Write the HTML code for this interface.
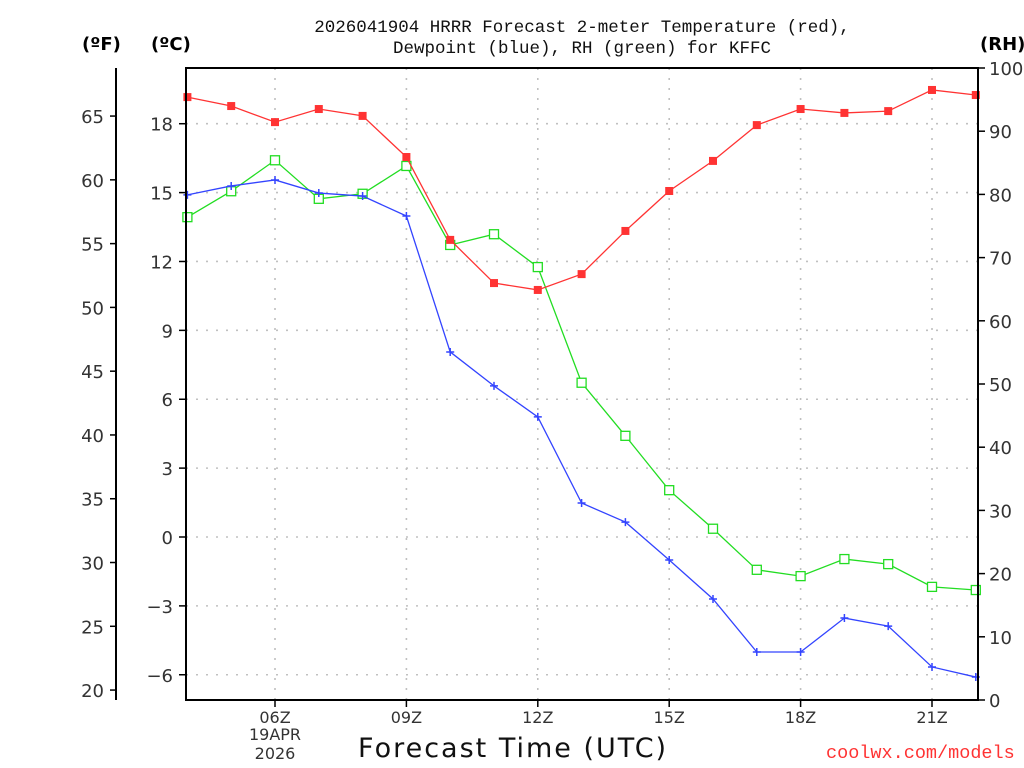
<!DOCTYPE html>
<html><head><meta charset="utf-8"><style>
body{margin:0;background:#fff;}
svg{display:block;font-family:"DejaVu Sans","Liberation Sans",sans-serif;}
</style></head><body>
<svg id="chart" width="1024" height="768" xmlns="http://www.w3.org/2000/svg"></svg>
<script>
const hours = [4,5,6,7,8,9,10,11,12,13,14,15,16,17,18,19,20,21,22];
const tempC = [19.16,18.77,18.07,18.64,18.34,16.55,12.94,11.06,10.76,11.45,13.33,15.07,16.38,17.94,18.64,18.47,18.55,19.47,19.25];
const dewC = [14.90,15.29,15.55,14.98,14.85,13.98,8.06,6.58,5.23,1.48,0.65,-1.00,-2.70,-5.01,-5.01,-3.53,-3.88,-5.66,-6.10];
const rh = [76.4,80.5,85.4,79.3,80.1,84.5,72.0,73.7,68.5,50.2,41.8,33.2,27.1,20.6,19.6,22.3,21.5,17.9,17.4];
const xTickHours = [6,9,12,15,18,21];
const xTickLabels = ["06Z","09Z","12Z","15Z","18Z","21Z"];
const cTicks = [18,15,12,9,6,3,0,-3,-6];
const fTicks = [65,60,55,50,45,40,35,30,25,20];
const rhTicks = [100,90,80,70,60,50,40,30,20,10,0];

const L=186,R=978,T=68,B=700;
const x = h => 187.4 + (h-4)*43.8;
const yC = c => 537 - c*22.96;
const yF = f => yC((f-32)*5/9);
const yRH = v => B - v*(B-T)/100;
const NS="http://www.w3.org/2000/svg";
const svg=document.getElementById('chart');
function mk(tag,attrs,parent){const e=document.createElementNS(NS,tag);for(const k in attrs)e.setAttribute(k,attrs[k]);(parent||svg).appendChild(e);return e;}
function txt(s,attrs){const e=mk('text',attrs);e.textContent=s;return e;}

cTicks.forEach(c=>{const g=mk('line',{x1:L,x2:R,y1:yC(c),y2:yC(c),stroke:'#c0c0c0','stroke-width':1.6,'stroke-dasharray':'2,8'});

});
xTickHours.forEach(h=>{const g=mk('line',{x1:x(h),x2:x(h),y1:T,y2:B,stroke:'#c0c0c0','stroke-width':1.6,'stroke-dasharray':'2,8'});

});

function series(vals,yf,color,name,marker){
  const pts=vals.map((v,i)=>x(hours[i])+','+yf(v)).join(' ');
  const pl=mk('polyline',{points:pts,fill:'none',stroke:color,'stroke-width':1.3});
  
  
  vals.forEach((v,i)=>{const cx=x(hours[i]),cy=yf(v);let m;
    if(marker==='sq'){m=mk('rect',{x:cx-4,y:cy-4,width:8,height:8,fill:color});}
    else if(marker==='open'){m=mk('rect',{x:cx-4.5,y:cy-4.5,width:9,height:9,fill:'#fff',stroke:color,'stroke-width':1.3});}
    else{m=mk('path',{d:`M${cx-4} ${cy}H${cx+4}M${cx} ${cy-4}V${cy+4}`,stroke:color,'stroke-width':1.5});}
    
    });
}
series(rh,yRH,'#22dd22','rh','open');
series(dewC,yC,'#3344ff','dewpoint','plus');
series(tempC,yC,'#ff3333','temperature','sq');

const fr=mk('rect',{x:L,y:T,width:R-L,height:B-T,fill:'none',stroke:'#000','stroke-width':2});



cTicks.forEach(c=>{mk('line',{x1:179,x2:L,y1:yC(c),y2:yC(c),stroke:'#000','stroke-width':1.5});
const t=txt((c<0?'\u2212'+(-c):String(c)),{x:173,y:yC(c)+7,'text-anchor':'end','font-size':18,fill:'#333'});

});
mk('line',{x1:116,x2:116,y1:T,y2:B,stroke:'#000','stroke-width':2});
fTicks.forEach(f=>{mk('line',{x1:110,x2:116,y1:yF(f),y2:yF(f),stroke:'#000','stroke-width':1.5});
const t=txt(String(f),{x:104,y:yF(f)+7,'text-anchor':'end','font-size':18,fill:'#333'});

});
rhTicks.forEach(v=>{mk('line',{x1:R,x2:985,y1:yRH(v),y2:yRH(v),stroke:'#000','stroke-width':1.5});
const t=txt(String(v),{x:989,y:yRH(v)+7,'font-size':18,fill:'#333'});

});
xTickHours.forEach((h,i)=>{mk('line',{x1:x(h),x2:x(h),y1:B,y2:B+7,stroke:'#000','stroke-width':1.5});
const t=txt(xTickLabels[i],{x:x(h),y:723,'text-anchor':'middle','font-size':16,fill:'#333'});

});
</script>
<div style="position:absolute;left:0;top:0;width:1024px;height:768px;pointer-events:none;font-family:'DejaVu Sans','Liberation Sans',sans-serif;">
<div style="position:absolute;left:235px;top:725px;width:80px;text-align:center;font-size:16px;line-height:19px;color:#333;">19APR<br>2026</div>
<div style="position:absolute;left:282px;top:18px;width:600px;text-align:center;font-family:'Liberation Mono',monospace;font-size:17.5px;line-height:21px;color:#111;">2026041904 HRRR Forecast 2-meter Temperature (red),<br>Dewpoint (blue), RH (green) for KFFC</div>
<div style="position:absolute;left:82px;top:34px;font-weight:bold;font-size:18px;">(ºF)</div>
<div style="position:absolute;left:151px;top:34px;font-weight:bold;font-size:18px;">(ºC)</div>
<div style="position:absolute;left:980px;top:34px;font-weight:bold;font-size:18px;">(RH)</div>
<div style="position:absolute;left:358px;top:733px;font-size:27px;letter-spacing:2px;color:#111;">Forecast Time (UTC)</div>
<div style="position:absolute;left:826px;top:743px;font-family:'Liberation Mono',monospace;font-size:18.5px;color:#ff3333;">coolwx.com/models</div>
</div>
</body></html>
